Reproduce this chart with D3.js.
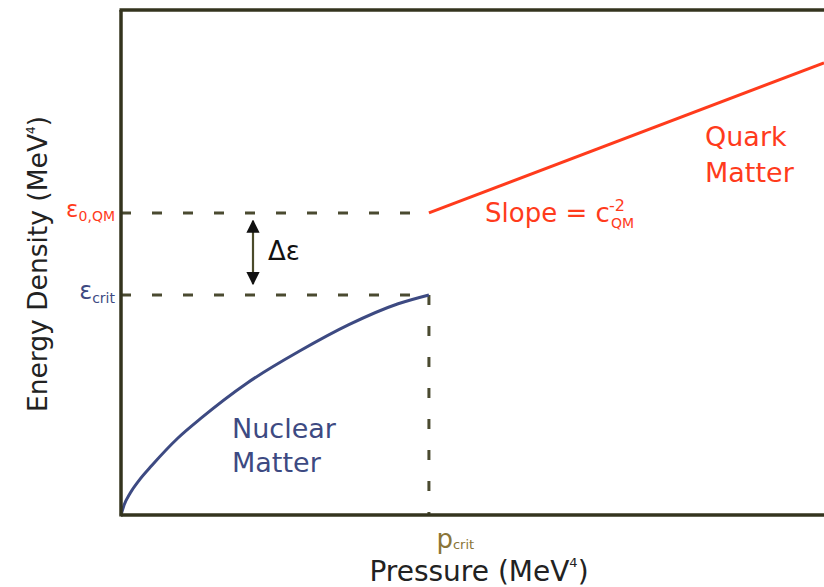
<!DOCTYPE html>
<html>
<head>
<meta charset="utf-8">
<script src="https://cdn.jsdelivr.net/npm/d3@7"></script>
<style>
  html, body { margin: 0; padding: 0; background: #fff; }
  svg { display: block; font-family: "DejaVu Sans", Verdana, sans-serif; }
</style>
</head>
<body>
<svg id="chart" width="824" height="587"></svg>
<script>
// ---- data (schematic units: p_crit = 1, eps_crit = 1) ----
const nuclearP = [0, 0.01, 0.03, 0.06, 0.1, 0.185, 0.26, 0.41, 0.58, 0.74, 0.9, 1.0];
const nuclearE = [0, 0.045, 0.10, 0.16, 0.225, 0.35, 0.44, 0.60, 0.745, 0.865, 0.96, 1.0];
const quarkP = [1.0, 2.283];
const quarkE = [1.373, 2.055];
const pCrit = 1.0;
const epsCrit = 1.0;
const eps0QM = 1.373;
const xDomain = [0, 2.283];
const yDomain = [0, 2.295];

const W = 824, H = 587;
const m = { left: 121, right: 0, top: 10, bottom: 72 };
const svg = d3.select("#chart");

const x = d3.scaleLinear().domain(xDomain).range([m.left, W - m.right]);
const y = d3.scaleLinear().domain(yDomain).range([H - m.bottom, m.top]);

const axisColor = "#34341e";
const dashColor = "#4a4a30";
const red = "#ff3b1c";
const navy = "#3d4a82";

// dashed guide lines
const dash = "10,21";
svg.append("line").attr("x1", x(0)).attr("x2", x(pCrit)).attr("y1", y(eps0QM)).attr("y2", y(eps0QM))
  .attr("stroke", dashColor).attr("stroke-width", 3).attr("stroke-dasharray", dash);
svg.append("line").attr("x1", x(0)).attr("x2", x(pCrit)).attr("y1", y(epsCrit)).attr("y2", y(epsCrit))
  .attr("stroke", dashColor).attr("stroke-width", 3).attr("stroke-dasharray", dash);
svg.append("line").attr("x1", x(pCrit)).attr("x2", x(pCrit)).attr("y1", y(epsCrit)).attr("y2", y(0))
  .attr("stroke", dashColor).attr("stroke-width", 3).attr("stroke-dasharray", "10,21");

// nuclear matter curve
const line = d3.line().x(d => x(d[0])).y(d => y(d[1])).curve(d3.curveMonotoneX);
svg.append("path").datum(nuclearP.map((p, i) => [p, nuclearE[i]]))
  .attr("d", line).attr("fill", "none").attr("stroke", navy).attr("stroke-width", 3);

// quark matter line
svg.append("path").datum(quarkP.map((p, i) => [p, quarkE[i]]))
  .attr("d", d3.line().x(d => x(d[0])).y(d => y(d[1])))
  .attr("fill", "none").attr("stroke", red).attr("stroke-width", 3);

// axes
const yAxis = d3.axisLeft(y).tickValues([eps0QM, epsCrit]).tickSize(0).tickPadding(6).tickFormat("");
const gy = svg.append("g").attr("transform", `translate(${x(0)},0)`).call(yAxis);
gy.select(".domain").remove();
const xAxis = d3.axisBottom(x).tickValues([pCrit]).tickSize(0).tickPadding(0).tickFormat("");
const gx = svg.append("g").attr("transform", `translate(0,${y(0)})`).call(xAxis);
gx.select(".domain").remove();

// frame lines
svg.append("line").attr("x1", x(0)).attr("x2", W).attr("y1", y(0)).attr("y2", y(0))
  .attr("stroke", axisColor).attr("stroke-width", 3.5);
svg.append("line").attr("x1", x(0) - 1.5).attr("x2", W).attr("y1", m.top).attr("y2", m.top)
  .attr("stroke", axisColor).attr("stroke-width", 3.5);
svg.append("line").attr("x1", x(0)).attr("x2", x(0)).attr("y1", m.top).attr("y2", y(0) + 1.5)
  .attr("stroke", axisColor).attr("stroke-width", 3.5);

// y tick labels
gy.selectAll(".tick").each(function(d) {
  const t = d3.select(this).select("text").attr("text-anchor", "end").attr("dy", "0.35em")
    .attr("x", -6).style("font-family", "DejaVu Sans, Verdana, sans-serif");
  if (d === eps0QM) {
    t.attr("fill", red);
    t.append("tspan").text("ε").attr("font-size", 23);
    t.append("tspan").text("0,QM").attr("font-size", 14).attr("dy", "0.3em");
  } else {
    t.attr("fill", navy);
    t.append("tspan").text("ε").attr("font-size", 24);
    t.append("tspan").text("crit").attr("font-size", 14).attr("dy", "0.3em");
  }
});
// x tick label
gx.selectAll(".tick").each(function() {
  const t = d3.select(this).select("text").attr("text-anchor", "start").attr("x", 7).attr("y", 33).attr("dy", 0)
    .attr("fill", "#8a7538").style("font-family", "DejaVu Sans, Verdana, sans-serif");
  t.append("tspan").text("p").attr("font-size", 26);
  t.append("tspan").text("crit").attr("font-size", 13).attr("dy", "0.1em");
});

// axis titles
const xt = svg.append("text").attr("x", 479).attr("y", 581).attr("text-anchor", "middle")
  .attr("font-size", 28).attr("fill", "#222");
xt.append("tspan").text("Pressure (MeV");
xt.append("tspan").text("4").attr("font-size", 13).attr("dy", "-1.05em");
xt.append("tspan").text(")").attr("dy", "0.5em");

const yt = svg.append("text").attr("transform", "translate(47,264) rotate(-90)").attr("text-anchor", "middle")
  .attr("font-size", 26.5).attr("fill", "#222");
yt.append("tspan").text("Energy Density (MeV");
yt.append("tspan").text("4").attr("font-size", 12).attr("dy", "-1.0em");
yt.append("tspan").text(")").attr("dy", "0.45em");

// delta-epsilon arrow
const defs = svg.append("defs");
defs.append("marker").attr("id", "ah").attr("viewBox", "0 0 10 10").attr("refX", 9).attr("refY", 5)
  .attr("markerWidth", 6).attr("markerHeight", 6).attr("markerUnits", "strokeWidth").attr("orient", "auto-start-reverse")
  .append("path").attr("d", "M0,0 L10,5 L0,10 Z").attr("fill", "#111");
const arrowX = 253;
svg.append("line").attr("x1", arrowX).attr("x2", arrowX)
  .attr("y1", y(eps0QM) + 8).attr("y2", y(epsCrit) - 11)
  .attr("stroke", "#4a4a2a").attr("stroke-width", 2.2)
  .attr("marker-start", "url(#ah)").attr("marker-end", "url(#ah)");
svg.append("text").attr("x", 268).attr("y", 260).attr("font-size", 26).attr("fill", "#111").text("Δε");

// annotations
const sl = svg.append("text").attr("x", 485).attr("y", 222).attr("font-size", 26).attr("fill", red);
sl.append("tspan").text("Slope = c");
sl.append("tspan").text("-2").attr("font-size", 16).attr("dy", "-0.7em").attr("dx", "-0.05em");
sl.append("tspan").text("QM").attr("font-size", 14).attr("dy", "1.2em").attr("dx", "-1.0em");

svg.append("text").attr("x", 705).attr("y", 146).attr("font-size", 27).attr("fill", red).text("Quark");
svg.append("text").attr("x", 705).attr("y", 182).attr("font-size", 27).attr("fill", red).text("Matter");
svg.append("text").attr("x", 232).attr("y", 438).attr("font-size", 27).attr("fill", navy).text("Nuclear");
svg.append("text").attr("x", 232).attr("y", 472).attr("font-size", 27).attr("fill", navy).text("Matter");
</script>
</body>
</html>
